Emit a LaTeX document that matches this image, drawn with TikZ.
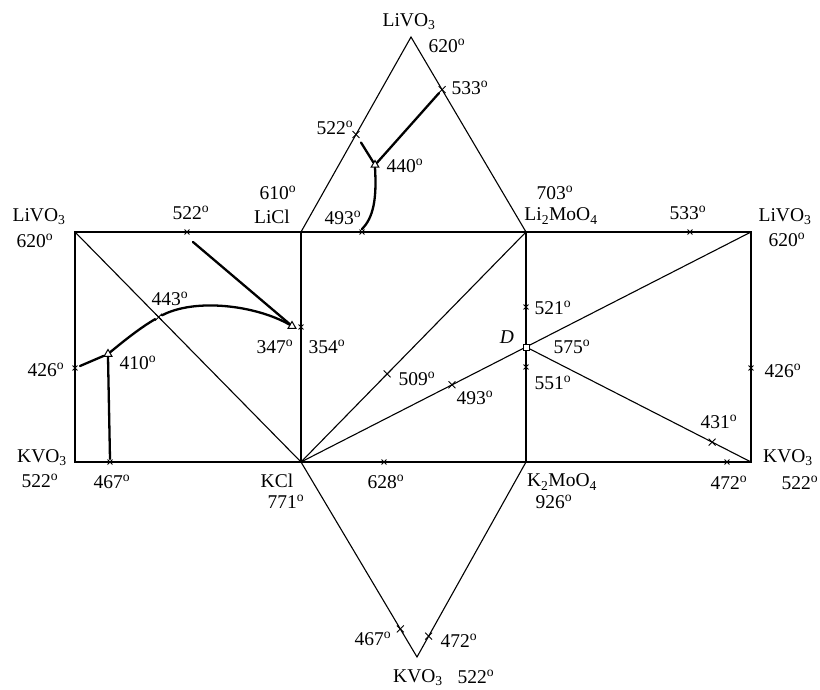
\documentclass[tikz,border=0pt]{standalone}
\usepackage{fontspec}
\setmainfont{Liberation Serif}
\usetikzlibrary{shapes.misc,shapes.geometric,calc}
\newcommand{\dg}{\textsuperscript{o}}
\tikzset{
  edge/.style={line width=1.1pt},
  melt/.style={line width=2.3pt, line cap=round},
  xmark/.style={cross out, draw, line width=0.9pt, minimum size=6pt, inner sep=0pt},
  smark/.style={cross out, draw, line width=0.9pt, minimum size=4pt, inner sep=0pt},
  trimark/.style={regular polygon, regular polygon sides=3, draw, fill=white, line width=1pt, minimum size=9pt, inner sep=0pt},
  sqmark/.style={rectangle, draw, fill=white, line width=0.9pt, minimum size=6pt, inner sep=0pt},
  lbl/.style={inner sep=0pt, font=\fontsize{19.5}{22}\selectfont}
}
\begin{document}
\begin{tikzpicture}[x=1pt, y=-1pt]
\useasboundingbox (0,0) rectangle (820,690);
% corners of the unfolded prism
\coordinate (A) at (75,232);
\coordinate (B) at (301,232);
\coordinate (C) at (526,232);
\coordinate (E) at (751,232);
\coordinate (F) at (75,462);
\coordinate (G) at (301,462);
\coordinate (H) at (526,462);
\coordinate (I) at (751,462);
\coordinate (T) at (411,37);
\coordinate (Bt) at (417,657);
\coordinate (D) at (526,347);

% frame and faces
\draw[edge] (A) -- (E) -- (I) -- (F) -- cycle;
\draw[edge] (B) -- (G);
\draw[edge] (C) -- (H);
\draw[edge] (B) -- (T) -- (C);
\draw[edge] (G) -- (Bt) -- (H);
% stable sections
\draw[edge] (A) -- (G);
\draw[edge] (G) -- (C);
\draw[edge] (G) -- (D);
\draw[edge] (D) -- (E);
\draw[edge] (D) -- (I);

% points on edges and sections
\node[xmark] (m1) at ($(B)!0.5!(T)$) {};
\node[xmark] (m2) at ($(T)!0.27!(C)$) {};
\node[xmark] (m3) at ($(A)!0.37!(G)$) {};
\node[xmark] (m4) at ($(G)!0.383!(C)$) {};
\node[xmark] (m5) at ($(G)!0.671!(D)$) {};
\node[xmark] (m6) at ($(D)!0.827!(I)$) {};
\node[xmark] (m7) at ($(G)!0.856!(Bt)$) {};
\node[xmark] (m8) at ($(Bt)!0.107!(H)$) {};
\node[smark] (m9) at (187,232) {};
\node[smark] (m10) at (75,368) {};
\node[smark] (m11) at (110,462) {};
\node[smark] (m12) at (384,462) {};
\node[smark] (m13) at (526,307) {};
\node[smark] (m14) at (526,367) {};
\node[smark] (m15) at (751,368) {};
\node[smark] (m16) at (690,232) {};
\node[smark] (m17) at (727,462) {};
\node[smark] (m18) at (362,232) {};
\node[smark] (m19) at (301,327) {};

% ternary points
\node[trimark] (p440) at (375,165) {};
\node[trimark] (p410) at (108,354) {};
\node[trimark] (p347) at (292,326) {};
\node[sqmark] (pD) at (D) {};

% liquidus curves
\draw[melt] (m2) -- (p440);
\draw[melt] ($(m1)+(5,8)$) -- (p440);
\draw[melt] (p440.south) .. controls (377,200) and (373,218) .. ($(m18)+(0,-3)$);
\draw[melt] ($(m9)+(6,10)$) -- (p347);
\draw[melt] (p347) .. controls (255,305) and (195,298) .. (m3);
\draw[melt] (m3) .. controls (140,328) and (125,340) .. (p410);
\draw[melt] (p410) -- ($(m10)+(5,-2)$);
\draw[melt] (p410.south) -- ($(m11)+(0,-3)$);

% component labels
\node[lbl] (nT) at (409,22) {LiVO\textsubscript{3}};
\node[lbl] (nA) at (39,217) {LiVO\textsubscript{3}};
\node[lbl] (nE) at (785,217) {LiVO\textsubscript{3}};
\node[lbl] (nF) at (42,458) {KVO\textsubscript{3}};
\node[lbl] (nI) at (788,458) {KVO\textsubscript{3}};
\node[lbl] (nBt) at (418,678) {KVO\textsubscript{3}};
\node[lbl] (nB) at (272,217) {LiCl};
\node[lbl] (nG) at (277,481) {KCl};
\node[lbl] (nC) at (561,216) {Li\textsubscript{2}MoO\textsubscript{4}};
\node[lbl] (nH) at (562,482) {K\textsubscript{2}MoO\textsubscript{4}};
\node[lbl, font=\fontsize{19.5}{22}\selectfont\itshape] (nD) at (507,337) {D};

% temperatures
\node[lbl] at (447,46) {620\dg};
\node[lbl] at (470,88) {533\dg};
\node[lbl] at (335,128) {522\dg};
\node[lbl] at (405,166) {440\dg};
\node[lbl] at (343,218) {493\dg};
\node[lbl] at (278,193) {610\dg};
\node[lbl] at (35,241) {620\dg};
\node[lbl] at (191,213) {522\dg};
\node[lbl] at (170,299) {443\dg};
\node[lbl] at (138,363) {410\dg};
\node[lbl] at (46,370) {426\dg};
\node[lbl] at (275,347) {347\dg};
\node[lbl] at (327,347) {354\dg};
\node[lbl] at (40,481) {522\dg};
\node[lbl] at (112,482) {467\dg};
\node[lbl] at (286,502) {771\dg};
\node[lbl] at (386,482) {628\dg};
\node[lbl] at (417,379) {509\dg};
\node[lbl] at (475,398) {493\dg};
\node[lbl] at (555,193) {703\dg};
\node[lbl] at (688,213) {533\dg};
\node[lbl] at (787,240) {620\dg};
\node[lbl] at (553,308) {521\dg};
\node[lbl] at (572,347) {575\dg};
\node[lbl] at (553,383) {551\dg};
\node[lbl] at (783,371) {426\dg};
\node[lbl] at (719,422) {431\dg};
\node[lbl] at (729,483) {472\dg};
\node[lbl] at (800,483) {522\dg};
\node[lbl] at (554,502) {926\dg};
\node[lbl] at (373,639) {467\dg};
\node[lbl] at (459,641) {472\dg};
\node[lbl] at (476,677) {522\dg};
\end{tikzpicture}
\end{document}
